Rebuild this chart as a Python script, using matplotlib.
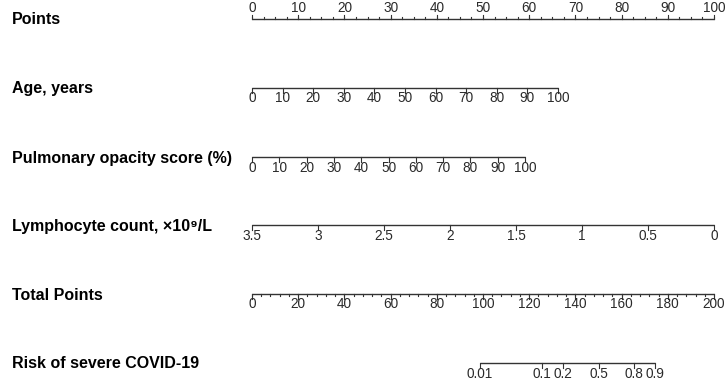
import numpy as np
import matplotlib
matplotlib.use("Agg")
import matplotlib.pyplot as plt

# nomogram scales
points_ticks = np.arange(0, 101, 10)
points_minor = np.arange(0, 100.1, 2.5)

age_ticks = np.arange(0, 101, 10)
age_max_points = 66.2            # age 100 -> points

opacity_ticks = np.arange(0, 101, 10)
opacity_max_points = 59.1        # score 100 -> points

lymph_ticks = [3.5, 3, 2.5, 2, 1.5, 1, 0.5, 0]
lymph_max = 3.5                  # 3.5 -> 0 points, 0 -> 100 points

total_ticks = np.arange(0, 201, 20)
total_minor = np.arange(0, 200.1, 4)

risk_labels = ["0.01", "0.1", "0.2", "0.5", "0.8", "0.9"]
risk_total_points = [98.7, 125.4, 134.5, 150.1, 165.4, 174.5]

row_names = ["Points", "Age, years", "Pulmonary opacity score (%)",
             "Lymphocyte count, \u00d710\u2079/L", "Total Points",
             "Risk of severe COVID-19"]
row_y = [19, 88, 157, 225, 294, 363]

plt.rcParams['font.family'] = ['Liberation Sans', 'DejaVu Sans']
line_col = '#333333'
txt_col = '#2a2a2a'

fig = plt.figure(figsize=(7.27, 3.85), dpi=100)
ax = fig.add_axes([252/727, 0, 462/727, 1])
ax.set_xlim(0, 100)
ax.set_ylim(385, 0)
ax.axis('off')


def scale(pos, labels, y, minor=None, up=False, fs=9.8):
    pos = np.asarray(pos, dtype=float)
    ax.plot([pos.min(), pos.max()], [y, y], color=line_col, lw=1.0,
            solid_capstyle='butt', clip_on=False)
    d = -1 if up else 1
    for p, lab in zip(pos, labels):
        ax.plot([p, p], [y, y + d*4.5], color=line_col, lw=0.8, clip_on=False)
        ax.text(p, y + d*10.5, lab, ha='center', va='center', fontsize=fs,
                color=txt_col)
    if minor is not None:
        for p in minor:
            ax.plot([p, p], [y, y + d*2], color=line_col, lw=0.8, clip_on=False)


scale(points_ticks, [str(v) for v in points_ticks], row_y[0],
      minor=points_minor, up=True)
scale(age_ticks*age_max_points/100, [str(v) for v in age_ticks], row_y[1])
scale(opacity_ticks*opacity_max_points/100, [str(v) for v in opacity_ticks], row_y[2])
scale([(lymph_max - v)/lymph_max*100 for v in lymph_ticks],
      [("%g" % v) for v in lymph_ticks], row_y[3])
scale(total_ticks/2, [str(v) for v in total_ticks], row_y[4], minor=total_minor/2)
scale(np.array(risk_total_points)/2, risk_labels, row_y[5])

for name, y in zip(row_names, row_y):
    fig.text(12/727, 1 - (y + 1)/385, name, fontsize=11.5, fontweight='bold',
             va='center', ha='left', color='black')

fig.savefig("out.png", dpi=100)
